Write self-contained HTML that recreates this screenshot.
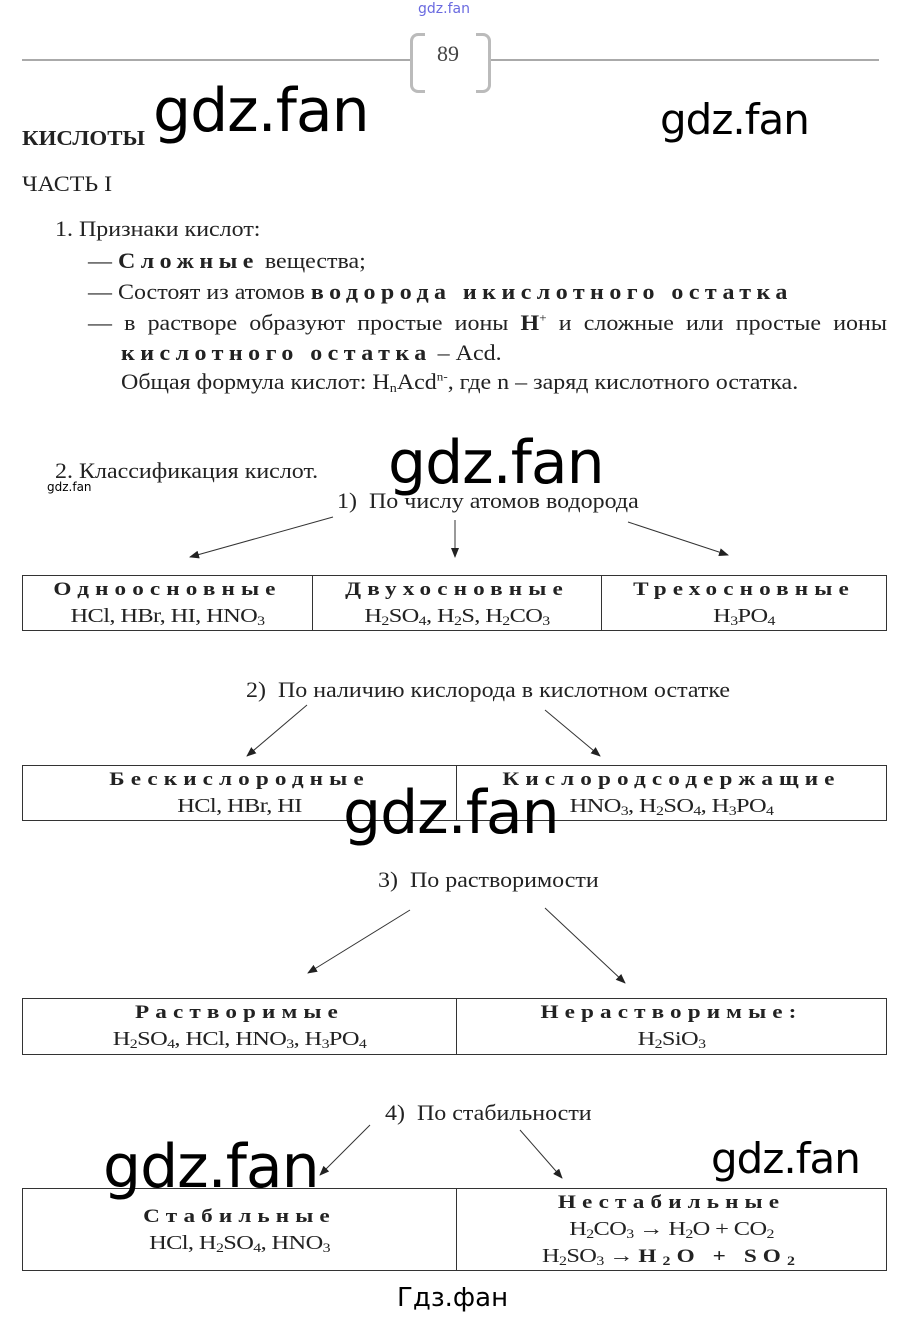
<!DOCTYPE html>
<html><head><meta charset="utf-8"><style>
body{margin:0;width:902px;height:1319px;background:#fff;position:relative;overflow:hidden;font-family:"Liberation Serif",serif;color:#222}
.a{position:absolute;white-space:nowrap}
.t{position:absolute;white-space:nowrap;font-size:22px;transform:scaleX(1.09);transform-origin:left top}
.w{position:absolute;white-space:nowrap;font-family:"DejaVu Sans","Liberation Sans",sans-serif;color:#000;letter-spacing:-1px}
.sp{font-weight:bold;letter-spacing:5px}
.box{position:absolute;left:22px;width:865px;border-top:1.5px solid #333;border-bottom:1.5px solid #333;border-left:1px solid #333;border-right:1px solid #333;box-sizing:border-box;display:flex}
.c{flex:1;text-align:center;font-size:20px;line-height:27px;border-right:1px solid #333;letter-spacing:-.5px}
.c>div{transform:scaleX(1.22);transform-origin:center}
.c:last-child{border-right:none}
.c b{letter-spacing:5px;font-size:19px}
sub{font-size:13px;vertical-align:-3px;line-height:0}
sup{font-size:12px;line-height:0}
</style></head><body>
<div class="w" style="left:418px;top:1px;font-size:14px;color:#6a6ae0;letter-spacing:0">gdz.fan</div>
<div class="a" style="left:22px;top:59px;width:388px;height:2px;background:#aaa"></div>
<div class="a" style="left:490px;top:59px;width:389px;height:2px;background:#aaa"></div>
<div class="a" style="left:410px;top:33px;width:12px;height:54px;border:3px solid #bbb;border-right:none;border-radius:8px 0 0 8px"></div>
<div class="a" style="left:476px;top:33px;width:12px;height:54px;border:3px solid #bbb;border-left:none;border-radius:0 8px 8px 0"></div>
<div class="a" style="left:437px;top:41px;font-size:22px;color:#444">89</div>

<div class="t" style="left:22px;top:126px;font-weight:bold;font-size:21px">КИСЛОТЫ</div>
<div class="t" style="left:22px;top:171px">ЧАСТЬ I</div>
<div class="t" style="left:55px;top:216px">1. Признаки кислот:</div>
<div class="t" style="left:88px;top:248px">— <span class="sp">Сложные</span> вещества;</div>
<div class="t" style="left:88px;top:279px">— Состоят из атомов <span class="sp">водорода икислотного остатка</span></div>
<div class="t" style="left:88px;top:310px;width:733px;text-align:justify;text-align-last:justify;white-space:normal">— в растворе образуют простые ионы <b>H</b><sup>+</sup> и сложные или простые ионы</div>
<div class="t" style="left:121px;top:340px"><span class="sp">кислотного остатка</span> – Acd.</div>
<div class="t" style="left:121px;top:369px">Общая формула кислот: H<sub>n</sub>Acd<sup>n-</sup>, где n – заряд кислотного остатка.</div>

<div class="t" style="left:55px;top:458px">2. Классификация кислот.</div>
<div class="w" style="left:47px;top:480px;font-size:12px;letter-spacing:0">gdz.fan</div>
<div class="t" style="left:337px;top:488px">1)&nbsp; По числу атомов водорода</div>
<div class="t" style="left:246px;top:677px">2)&nbsp; По наличию кислорода в кислотном остатке</div>
<div class="t" style="left:378px;top:867px">3)&nbsp; По растворимости</div>
<div class="t" style="left:385px;top:1100px">4)&nbsp; По стабильности</div>

<svg class="a" style="left:0;top:0" width="902" height="1319">
<defs><marker id="m" markerWidth="10" markerHeight="8" refX="9" refY="4" orient="auto" markerUnits="userSpaceOnUse"><path d="M0,0L10,4L0,8z" fill="#222"/></marker></defs>
<g stroke="#333" stroke-width="1" marker-end="url(#m)">
<line x1="333" y1="517" x2="190" y2="557"/>
<line x1="455" y1="520" x2="455" y2="557"/>
<line x1="628" y1="522" x2="728" y2="555"/>
<line x1="307" y1="705" x2="247" y2="756"/>
<line x1="545" y1="710" x2="600" y2="756"/>
<line x1="410" y1="910" x2="308" y2="973"/>
<line x1="545" y1="908" x2="625" y2="983"/>
<line x1="370" y1="1125" x2="320" y2="1175"/>
<line x1="520" y1="1130" x2="562" y2="1178"/>
</g></svg>

<div class="box" style="top:575px;height:56px">
<div class="c" style="flex:0 0 289px"><div><b>Одноосновные</b><br>HCl, HBr, HI, HNO<sub>3</sub></div></div>
<div class="c" style="flex:0 0 288px"><div><b>Двухосновные</b><br>H<sub>2</sub>SO<sub>4</sub>, H<sub>2</sub>S, H<sub>2</sub>CO<sub>3</sub></div></div>
<div class="c"><div><b>Трехосновные</b><br>H<sub>3</sub>PO<sub>4</sub></div></div>
</div>
<div class="box" style="top:765px;height:56px">
<div class="c" style="flex:0 0 433px"><div><b>Бескислородные</b><br>HCl, HBr, HI</div></div>
<div class="c"><div><b>Кислородсодержащие</b><br>HNO<sub>3</sub>, H<sub>2</sub>SO<sub>4</sub>, H<sub>3</sub>PO<sub>4</sub></div></div>
</div>
<div class="box" style="top:998px;height:57px">
<div class="c" style="flex:0 0 433px"><div><b>Растворимые</b><br>H<sub>2</sub>SO<sub>4</sub>, HCl, HNO<sub>3</sub>, H<sub>3</sub>PO<sub>4</sub></div></div>
<div class="c"><div><b>Нерастворимые:</b><br>H<sub>2</sub>SiO<sub>3</sub></div></div>
</div>
<div class="box" style="top:1188px;height:83px">
<div class="c" style="flex:0 0 433px;padding-top:14px"><div><b>Стабильные</b><br>HCl, H<sub>2</sub>SO<sub>4</sub>, HNO<sub>3</sub></div></div>
<div class="c"><div><b>Нестабильные</b><br>H<sub>2</sub>CO<sub>3</sub> → H<sub>2</sub>O + CO<sub>2</sub><br>H<sub>2</sub>SO<sub>3</sub> → <b>H<sub>2</sub>O + SO<sub>2</sub></b></div></div>
</div>

<div class="w" style="left:153px;top:76px;font-size:60px">gdz.fan</div>
<div class="w" style="left:660px;top:95px;font-size:42px">gdz.fan</div>
<div class="w" style="left:388px;top:428px;font-size:60px">gdz.fan</div>
<div class="w" style="left:343px;top:778px;font-size:60px">gdz.fan</div>
<div class="w" style="left:103px;top:1132px;font-size:60px">gdz.fan</div>
<div class="w" style="left:711px;top:1134px;font-size:42px">gdz.fan</div>
<div class="w" style="left:397px;top:1283px;font-size:26px;letter-spacing:0">Гдз.фан</div>
</body></html>
